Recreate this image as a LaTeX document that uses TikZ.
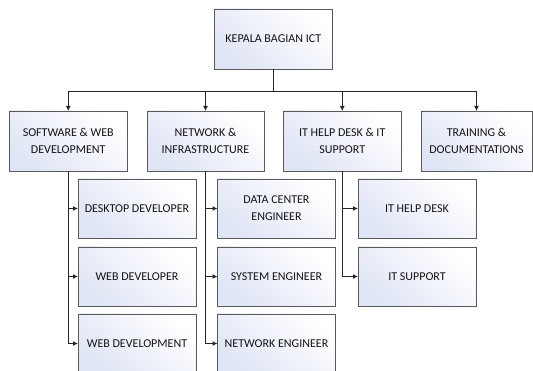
\documentclass[tikz,border=0pt]{standalone}
\usepackage{fontspec}
\setmainfont{Carlito}
\usetikzlibrary{arrows.meta,calc}
\definecolor{boxblue}{RGB}{224,229,245}
\definecolor{boxline}{RGB}{90,90,90}
\definecolor{labelgray}{RGB}{20,20,20}
\begin{document}
\begin{tikzpicture}[x=1pt,y=-1pt,
  unit/.style={draw=boxline, line width=0.9pt, top color=white, bottom color=boxblue,
    shading angle=-40, align=center, anchor=north west, inner sep=2pt, outer sep=0pt,
    minimum height=60pt, text=labelgray, font=\fontsize{12}{17}\selectfont},
  link/.style={draw=black!85, line width=1pt, -{Latex[length=5pt,width=5pt]}}]
\useasboundingbox (0,0) rectangle (533,371);
\clip (0,0) rectangle (533,371);

% head of department
\node[unit, minimum width=118.5pt] (head) at (214,9) {KEPALA BAGIAN ICT};

% divisions
\node[unit, minimum width=118.5pt] (sw) at (9,111)   {SOFTWARE \& WEB\\DEVELOPMENT};
\node[unit, minimum width=117pt]   (ni) at (147,111) {NETWORK \&\\INFRASTRUCTURE};
\node[unit, minimum width=117.5pt] (hd) at (283.5,111) {IT HELP DESK \& IT\\SUPPORT};
\node[unit, minimum width=111pt]   (tr) at (421,111) {TRAINING \&\\DOCUMENTATIONS};

% software & web staff
\node[unit, minimum width=118pt, minimum height=59pt] (dd) at (78,179) {DESKTOP DEVELOPER};
\node[unit, minimum width=118pt, minimum height=59pt] (wd) at (78,247) {WEB DEVELOPER};
\node[unit, minimum width=118pt, minimum height=59pt] (wv) at (78,314) {WEB DEVELOPMENT};

% network staff
\node[unit, minimum width=118pt, minimum height=59pt] (dc) at (217.5,179) {DATA CENTER\\ENGINEER};
\node[unit, minimum width=118pt, minimum height=59pt] (se) at (217.5,247) {SYSTEM ENGINEER};
\node[unit, minimum width=118pt, minimum height=59pt] (ne) at (217.5,314) {NETWORK ENGINEER};

% help desk staff
\node[unit, minimum width=118pt, minimum height=59pt] (hk) at (358,179) {IT HELP DESK};
\node[unit, minimum width=118pt, minimum height=59pt] (su) at (358,247) {IT SUPPORT};

% head to divisions
\coordinate (bus) at ($(head.south)+(0,23)$);
\foreach \d in {sw,ni,hd,tr}
  \draw[link] (head.south) -- (bus) -| (\d.north);

% divisions to staff
\foreach \s in {dd,wd,wv} \draw[link] (sw.south) |- (\s.west);
\foreach \s in {dc,se,ne} \draw[link] (ni.south) |- (\s.west);
\foreach \s in {hk,su}    \draw[link] (hd.south) |- (\s.west);
\end{tikzpicture}
\end{document}
